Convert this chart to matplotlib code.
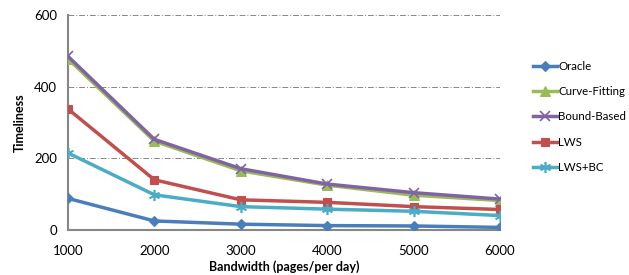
import matplotlib
matplotlib.use("Agg")
import matplotlib.pyplot as plt

plt.rcParams['font.family'] = ['Lato', 'DejaVu Sans']

bandwidth = [1000, 2000, 3000, 4000, 5000, 6000]
oracle = [88, 25, 16, 12, 11, 7]
curve_fitting = [478, 248, 165, 125, 97, 82]
bound_based = [485, 253, 171, 128, 104, 86]
lws = [338, 140, 84, 77, 65, 57]
lws_bc = [215, 98, 65, 58, 52, 40]

series = [
    ("Oracle", oracle, "#4A7EBB", "D", 5),
    ("Curve-Fitting", curve_fitting, "#9BBB59", "^", 7),
    ("Bound-Based", bound_based, "#8064A2", "x", 7),
    ("LWS", lws, "#C0504D", "s", 6),
    ("LWS+BC", lws_bc, "#4BACC6", (6, 2, 0), 8),
]

fig = plt.figure(figsize=(6.29, 2.75), dpi=100)
ax = fig.add_axes([0.108, 0.164, 0.687, 0.781])

for name, vals, color, marker, ms in series:
    ax.plot(bandwidth, vals, color=color, marker=marker, markersize=ms,
            linewidth=2.5, markeredgecolor=color,
            markeredgewidth=1.2 if marker == "x" or isinstance(marker, tuple) else 0.8,
            label=name, zorder=3)

ax.set_xlim(1000, 6000)
ax.set_ylim(0, 600)
ax.set_xticks(bandwidth)
ax.set_yticks([0, 200, 400, 600])
ax.grid(axis='y', color='#888888', linestyle='-.', linewidth=0.7, dashes=(6, 2, 1, 2))
ax.set_axisbelow(True)
for s in ['top', 'right']:
    ax.spines[s].set_visible(False)
for s in ['left', 'bottom']:
    ax.spines[s].set_color('#868686')
    ax.spines[s].set_linewidth(1.5)
ax.tick_params(axis='both', length=0, labelsize=9.5, colors='#000000')
ax.tick_params(axis='x', pad=11)
ax.tick_params(axis='y', pad=8)
ax.set_xlabel("Bandwidth (pages/per day)", fontsize=9, fontweight='bold', labelpad=2)
ax.set_ylabel("Timeliness", fontsize=9, fontweight='bold', labelpad=6)

leg = ax.legend(loc='upper left', bbox_to_anchor=(1.065, 0.81), frameon=False,
                fontsize=8.3, handlelength=2.1, handletextpad=0.1, labelspacing=1.25,
                borderaxespad=0)

fig.savefig("out.png", dpi=100)
